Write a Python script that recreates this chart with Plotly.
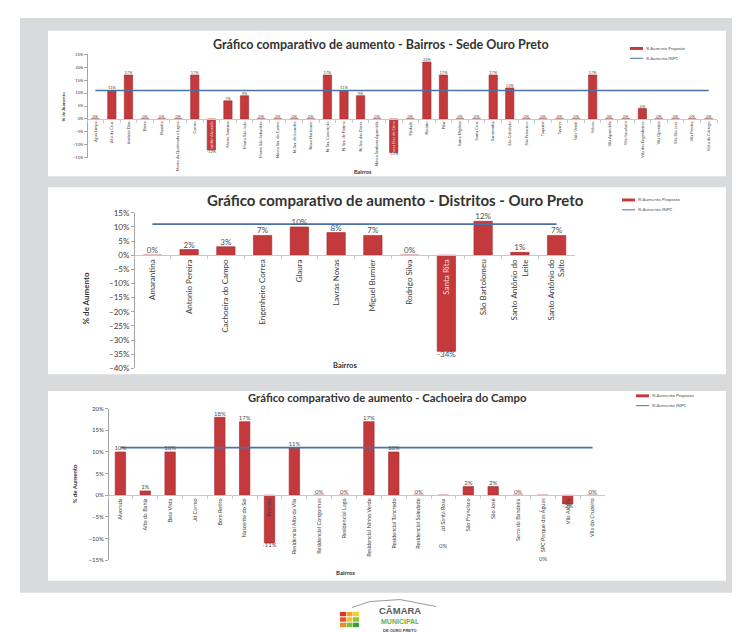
import plotly.graph_objects as go

W, H = 740, 632

# ---------------- data ----------------
sede_bairros = [
    "Água Limpa", "Alto da Cruz", "Antônio Dias", "Barra", "Bauxita",
    "Morro da Queimada e Lagoa", "Centro", "Jardim Alvorada", "Morro Santana",
    "Morro São João", "Morro São Sebastião", "Nossa Sra. do Carmo",
    "N. Sra. de Lourdes", "Novo Horizonte", "N. Sra. Conceição", "N. Sra. de Fátima",
    "N. Sra. das Dores", "Nossa Senhora Aparecida", "Passa Dez de Cima", "Piedade",
    "Rosário", "Pilar", "Santa Efigênia", "Santa Cruz", "Saramenha",
    "São Cristóvão", "São Francisco", "Taquaral", "Tavares", "Vale Verde",
    "Veloso", "Vila Aparecida", "Vila Itacolomi", "Vila dos Engenheiros",
    "Vila Operária", "Vila São José", "Vila Pereira", "Volta do Córrego",
]
sede_proposto = [0, 11, 17, 0, 0, 0, 17, -12, 7, 9, 0, 0, 0, 0, 17, 11, 9, 0,
                 -13, 0, 22, 17, 0, 0, 17, 12, 0, 0, 0, 0, 17, 0, 0, 4, 0, 0, 0, 0]

distritos = [
    "Amarantina", "Antonio Pereira", "Cachoeira do Campo", "Engenheiro Correa",
    "Glaura", "Lavras Novas", "Miguel Burnier", "Rodrigo Silva", "Santa Rita",
    "São Bartolomeu", "Santo Antônio do<br>Leite", "Santo Antônio do<br>Salto",
]
distritos_proposto = [0, 2, 3, 7, 10, 8, 7, 0, -34, 12, 1, 7]

cachoeira_bairros = [
    "Alvorada", "Alto da Bahia", "Bela Vista", "Jd Carmo", "Bom Retiro",
    "Nascente do Sol", "Recreio", "Residencial Alto da Vila", "Residencial Congonhas",
    "Residencial Lago", "Residencial Ninho Verde", "Residencial Tancredo",
    "Residencial Soledade", "Jd Santa Rosa", "São Francisco", "São José",
    "Serra da Bandeira", "SPC Parque das Águas", "Vila Alegre", "Vila do Cruzeiro",
]
cachoeira_proposto = [10, 1, 10, None, 18, 17, -11, 11, 0, 0, 17, 10, 0, 0, 2, 2, 0, 0, -2, 0]
cachoeira_rotulo_abaixo = ["Jd Santa Rosa", "SPC Parque das Águas"]

inpc = 11

titulos = [
    "Gráfico comparativo de aumento - Bairros - Sede Ouro Preto",
    "Gráfico comparativo de aumento - Distritos - Ouro Preto",
    "Gráfico comparativo de aumento - Cachoeira do Campo",
]
legenda_barra = "% Aumento Proposto"
legenda_linha = "% Aumento INPC"

# ---------------- style ----------------
RED = "#c3393c"
RED_EDGE = "#9e2b2e"
BLUE = "#4a72a6"
GRAY_TXT = "#505050"
FONT = "Lato"


def fx(px):
    return px / W


def fy(py):
    return 1 - py / H


charts = [
    dict(s="", cats=sede_bairros, vals=sede_proposto, x0=79, x1=709, yt=42, yb=147,
         rng=(-15, 25), tick=4, lab=4, cat=4, bw=0.5, title=12.5, title_xy=(373, 32),
         legx=622, legy=36, legf=4.2, ytit=(55, 95, 4.5), xtit=(355, 162, 5.5), white_neg=True),
    dict(s="2", cats=distritos, vals=distritos_proposto, x0=126, x1=567, yt=203, yb=361,
         rng=(-40, 15), tick=8, lab=8, cat=8, bw=0.5, title=15, title_xy=(387, 190),
         legx=614, legy=190, legf=4.5, ytit=(78, 290, 8), xtit=(337, 358, 7.5), white_neg=True),
    dict(s="3", cats=cachoeira_bairros, vals=cachoeira_proposto, x0=100, x1=597, yt=402, yb=556,
         rng=(-15, 20), tick=6, lab=6, cat=5.5, bw=0.42, title=11.3, title_xy=(379, 391),
         legx=628, legy=389, legf=4.5, ytit=(66, 478, 6), xtit=(337, 568, 6), white_neg=False),
]

fig = go.Figure()
shapes = []
annotations = []
layout_axes = {}

# page background
shapes.append(dict(type="rect", xref="paper", yref="paper", x0=fx(12), x1=fx(731),
                   y0=fy(589), y1=fy(5), fillcolor="#d9dadb", line=dict(width=0), layer="below"))
for (t, b) in [(18, 166), (177, 367), (384, 577)]:
    shapes.append(dict(type="rect", xref="paper", yref="paper", x0=fx(40), x1=fx(718),
                       y0=fy(b), y1=fy(t), fillcolor="white", line=dict(width=0), layer="below"))


def note(x, y, text, size, color="#333333", angle=0, xanchor="center", family=FONT,
         xref="paper", yref="paper", pad=1):
    annotations.append(dict(xref=xref, yref=yref, x=x, y=y, text=text, textangle=angle,
                            showarrow=False, xanchor=xanchor, yanchor="middle", borderpad=pad,
                            font=dict(family=family, size=size, color=color)))


for idx, c in enumerate(charts):
    s = c["s"]
    xa, ya = "x" + s, "y" + s
    cats, vals = c["cats"], c["vals"]
    lo, hi = c["rng"]
    d0, d1 = fy(c["yb"]), fy(c["yt"])
    zero_pos = d0 + (0 - lo) / (hi - lo) * (d1 - d0)

    fig.add_trace(go.Bar(x=cats, y=vals, xaxis=xa, yaxis=ya, width=c["bw"],
                         marker=dict(color=RED, line=dict(color=RED_EDGE, width=0.6)),
                         showlegend=False, hoverinfo="skip"))
    fig.add_trace(go.Scatter(x=[cats[0], cats[-1]], y=[inpc, inpc], xaxis=xa, yaxis=ya,
                             mode="lines", line=dict(color=BLUE, width=1.6),
                             showlegend=False, hoverinfo="skip"))
    lx, ly, lt, lp = [], [], [], []
    for cat, v in zip(cats, vals):
        if v is None:
            continue
        if s == "3" and cat in cachoeira_rotulo_abaixo:
            continue
        lx.append(cat)
        ly.append(v)
        lt.append(f"{v}%")
        lp.append("top center" if v >= 0 else "bottom center")
    fig.add_trace(go.Scatter(x=lx, y=ly, xaxis=xa, yaxis=ya, mode="text", text=lt,
                             textposition=lp, cliponaxis=False,
                             textfont=dict(family=FONT, size=c["lab"], color=GRAY_TXT),
                             showlegend=False, hoverinfo="skip"))

    ticktext = [
        f"<span style='color:#f3dede'>{cat}</span>" if (c["white_neg"] and v is not None and v < 0) else cat
        for cat, v in zip(cats, vals)
    ]

    layout_axes["xaxis" + s] = dict(
        domain=[fx(c["x0"]), fx(c["x1"])], anchor="free", position=zero_pos,
        type="category", range=[-0.5, len(cats) - 0.5], tickangle=-90,
        tickmode="array", tickvals=cats, ticktext=ticktext,
        tickfont=dict(family=FONT, size=c["cat"], color="#404040"),
        showline=True, linecolor="#c8c8c8", linewidth=1, ticks="outside", ticklen=3,
        tickcolor="#c8c8c8", tickson="boundaries", showgrid=False, zeroline=False,
        fixedrange=True)
    layout_axes["yaxis" + s] = dict(
        domain=[d0, d1], anchor="free", position=fx(c["x0"]), range=[lo, hi],
        tick0=0, dtick=5, ticksuffix="%", showline=True, linecolor="#a6a6a6",
        linewidth=1, ticks="outside", ticklen=3, tickcolor="#a6a6a6",
        tickfont=dict(family=FONT, size=c["tick"], color="#404040"),
        showgrid=False, zeroline=False, fixedrange=True)

    tx, ty = c["title_xy"]
    note(fx(tx), fy(ty), "<b>" + titulos[idx] + "</b>", c["title"])
    yx, yy, yf = c["ytit"]
    note(fx(yx), fy(yy), "<b>% de Aumento</b>", yf, angle=-90)
    xx, xy, xf = c["xtit"]
    note(fx(xx), fy(xy), "<b>Bairros</b>", xf)

    # legend (manual)
    gx, gy, gf = c["legx"], c["legy"], c["legf"]
    shapes.append(dict(type="rect", xref="paper", yref="paper", x0=fx(gx), x1=fx(gx + 13),
                       y0=fy(gy + 1.5), y1=fy(gy - 1.5), fillcolor=RED, line=dict(width=0)))
    note(fx(gx + 14), fy(gy), legenda_barra, gf, color=GRAY_TXT, xanchor="left")
    shapes.append(dict(type="line", xref="paper", yref="paper", x0=fx(gx), x1=fx(gx + 13),
                       y0=fy(gy + 10), y1=fy(gy + 10), line=dict(color=BLUE, width=1)))
    note(fx(gx + 14), fy(gy + 10), legenda_linha, gf, color=GRAY_TXT, xanchor="left")

# labels "0%" below category names (chart 3)
for cat, off in zip(cachoeira_rotulo_abaixo, [-11.5, -14.5]):
    note(cat, off, "0%", 6, color=GRAY_TXT, xref="x3", yref="y3")

# logo
logo_cols = ["#d23a2b", "#f2a51e", "#f4d12a", "#e8542b", "#f6c02d", "#8cc63f",
             "#f08a24", "#7bbf3c", "#3f9b3a"]
for i, col in enumerate(logo_cols):
    r, k = divmod(i, 3)
    shapes.append(dict(type="rect", xref="paper", yref="paper",
                       x0=fx(332 + k * 6.5), x1=fx(338 + k * 6.5),
                       y0=fy(613 + r * 5.5), y1=fy(608.5 + r * 5.5),
                       fillcolor=col, line=dict(width=0)))
shapes.append(dict(type="path", xref="paper", yref="paper",
                   path=f"M {fx(344)},{fy(604)} L {fx(362)},{fy(598)} L {fx(392)},{fy(596)} L {fx(428)},{fy(603)}",
                   line=dict(color="#9a9a9a", width=1)))
note(fx(392), fy(607.5), "<b>CÂMARA</b>", 9.5, color="#5a5a5a", family="Liberation Sans", pad=0)
note(fx(392), fy(618.5), "<b>MUNICIPAL</b>", 7, color="#6fae3e", family="Liberation Sans", pad=0)
note(fx(392), fy(627), "<b>DE OURO PRETO</b>", 4, color="#444444", family="Liberation Sans", pad=0)

fig.update_layout(
    width=W, height=H, margin=dict(l=0, r=0, t=0, b=0),
    paper_bgcolor="white", plot_bgcolor="rgba(0,0,0,0)",
    showlegend=False, shapes=shapes, annotations=annotations,
    font=dict(family=FONT), bargap=0.5,
    **layout_axes,
)

fig.write_html("out.html")
